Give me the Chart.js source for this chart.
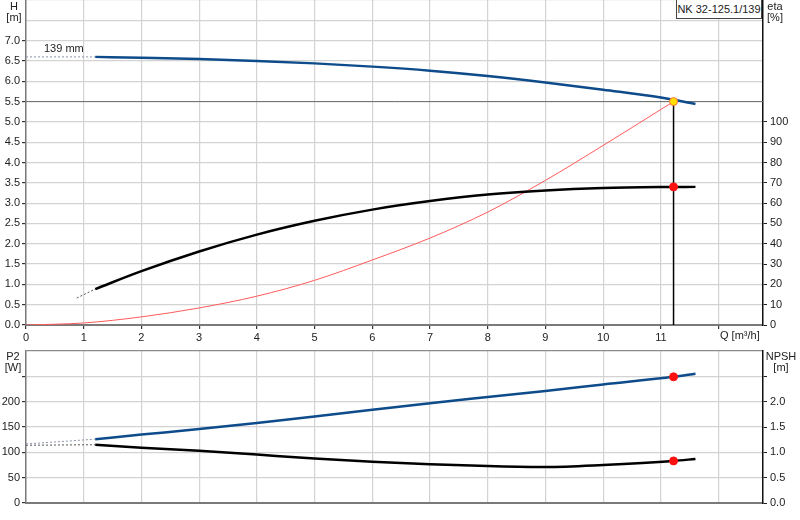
<!DOCTYPE html>
<html>
<head>
<meta charset="utf-8">
<script src="https://cdn.jsdelivr.net/npm/chart.js@4.4.1/dist/chart.umd.min.js"></script>
<style>
  body { margin: 0; background: #fff; font-family: Arial, "Liberation Sans", sans-serif; }
  #wrap { position: relative; width: 800px; height: 520px; overflow: hidden; }
  canvas { position: absolute; left: 0; }
  .lbl { position: absolute; font-size: 11px; line-height: 11px; color: #222; text-align: center; white-space: nowrap; }
  #tag { position: absolute; left: 676px; top: -1px; width: 84px; height: 18px; border: 1px solid #444;
         background: #fff; font-size: 11px; line-height: 19px; text-align: center; color: #222; }
</style>
</head>
<body>
<div id="wrap">
  <canvas id="topChart" width="800" height="345" style="top:0"></canvas>
  <canvas id="botChart" width="800" height="175" style="top:345px"></canvas>
  <div class="lbl" style="left:2px;top:1px;width:24px">H<br>[m]</div>
  <div class="lbl" style="left:763px;top:1px;width:24px">eta<br>[%]</div>
  <div class="lbl" style="left:44px;top:43px">139 mm</div>
  <div class="lbl" style="left:720px;top:330px">Q [m³/h]</div>
  <div class="lbl" style="left:1px;top:351px;width:24px">P2<br>[W]</div>
  <div class="lbl" style="left:764px;top:351px;width:34px">NPSH<br>[m]</div>
  <div id="tag">NK 32-125.1/139</div>
</div>
<script>
// pump curve (top)
const flowHead = [1.2, 2, 3, 4, 5, 6, 7, 8, 9, 10, 11, 11.6];
const head = [6.6, 6.58, 6.55, 6.5, 6.44, 6.36, 6.26, 6.13, 5.97, 5.79, 5.6, 5.44];
const headExtFlow = [0, 1.2];
const headExt = [6.6, 6.6];

const flowEta = [1.2, 2, 3, 4, 5, 6, 7, 8, 9, 10, 11, 11.6];
const eta = [17.7, 26.5, 36.2, 44.5, 51.3, 56.8, 61, 64.2, 66.2, 67.4, 67.9, 68];
const etaExtFlow = [0.88, 1.2];
const etaExt = [13.3, 17.7];

const flowSys = [0, 1, 2, 3, 4, 5, 6, 7, 8, 9, 10, 11.22];
const sysHead = [0, 0.05, 0.2, 0.42, 0.71, 1.1, 1.6, 2.14, 2.78, 3.56, 4.42, 5.5];

// power / npsh (bottom)
const flowLow = [1.2, 2, 3, 4, 5, 6, 7, 8, 9, 10, 11.22, 11.6];
const p2 = [126, 135, 146, 158, 170.5, 184, 197, 209, 221, 234, 249, 255];
const npsh = [1.15, 1.09, 1.03, 0.955, 0.88, 0.815, 0.765, 0.73, 0.71, 0.75, 0.83, 0.87];
const lowExtFlow = [0, 1.2];
const p2Ext = [116.5, 126];
const npshExt = [1.14, 1.15];

// duty point
const dutyQ = 11.22, dutyH = 5.5, dutyEta = 68, dutyP2 = 249, dutyNpsh = 0.83;

// axes
const qMax = 12.77;
const qTicks = [0, 1, 2, 3, 4, 5, 6, 7, 8, 9, 10, 11, 12];
const hTicks = [0, 0.5, 1, 1.5, 2, 2.5, 3, 3.5, 4, 4.5, 5, 5.5, 6, 6.5, 7, 7.5, 8];
const etaTicks = [0, 10, 20, 30, 40, 50, 60, 70, 80, 90, 100, 110, 120, 130, 140, 150, 160];
const p2Ticks = [0, 50, 100, 150, 200, 250, 300];
const npshTicks = [0, 0.5, 1, 1.5, 2, 2.5, 3];

Chart.defaults.font.family = 'Arial, "Liberation Sans", sans-serif';
Chart.defaults.font.size = 11;
Chart.defaults.color = '#222';

const pts = (xs, ys) => xs.map((x, i) => ({ x: x, y: ys[i] }));
const setTicks = list => s => { s.ticks = list.map(v => ({ value: v })); };
const GRID = '#d3d3d3';
const NONE = 'rgba(0,0,0,0)';

function line(data, color, width, extra) {
  return Object.assign({
    type: 'line', data: data, borderColor: color, borderWidth: width,
    pointRadius: 0, cubicInterpolationMode: 'monotone', fill: false
  }, extra || {});
}
function dot(x, y, fillC, edge, axis) {
  return { type: 'line', data: [{ x: x, y: y }], showLine: false, pointRadius: 4,
    pointBackgroundColor: fillC, pointBorderColor: edge, pointBorderWidth: 1, yAxisID: axis };
}

function xAxis(showLabels, h) {
  return {
    type: 'linear', min: 0, max: qMax,
    afterBuildTicks: setTicks(qTicks),
    afterFit: s => { s.height = h; s.paddingLeft = 0; s.paddingRight = 0; },
    grid: { color: GRID, lineWidth: 1.2, drawTicks: showLabels, tickLength: 4, tickColor: '#333' },
    border: { color: '#7a7a7a', width: 2 },
    ticks: { display: showLabels, padding: 2, maxRotation: 0, callback: v => v <= 11 ? String(v) : '' }
  };
}

function yLeft(min, max, list, labelMax, tickMax, dec, darkTop) {
  return {
    type: 'linear', position: 'left', min: min, max: max,
    afterBuildTicks: setTicks(list),
    afterFit: s => { s.width = 26; s.paddingTop = 0; s.paddingBottom = 0; },
    grid: { color: c => (darkTop && c.tick && c.tick.value === max) ? '#8a8a8a' : GRID, lineWidth: 1.2,
            tickLength: 4, tickColor: c => (c.tick && c.tick.value <= tickMax) ? '#333' : NONE },
    border: { color: '#7a7a7a', width: 1.5 },
    ticks: { padding: 2, callback: v => v <= labelMax ? v.toFixed(dec) : '' }
  };
}

function yRight(min, max, list, labelMax, tickMax, dec) {
  return {
    type: 'linear', position: 'right', min: min, max: max,
    afterBuildTicks: setTicks(list),
    afterFit: s => { s.width = 37; s.paddingTop = 0; s.paddingBottom = 0; },
    grid: { drawOnChartArea: false, tickLength: 4, tickColor: c => (c.tick && c.tick.value <= tickMax) ? '#222' : NONE },
    border: { color: '#111', width: 1.5 },
    ticks: { padding: 3, callback: v => v <= labelMax ? v.toFixed(dec) : '' }
  };
}

const common = {
  responsive: false, animation: false, devicePixelRatio: 1,
  plugins: { legend: { display: false }, tooltip: { enabled: false } }
};

new Chart(document.getElementById('topChart'), {
  type: 'line',
  data: {
    datasets: [
      dot(dutyQ, dutyH, '#ffe000', '#ff7040', 'y'),
      dot(dutyQ, dutyEta, '#ff1010', '#ff1010', 'yEta'),
      line(pts(flowHead, head), '#0d4b8a', 2.5, { yAxisID: 'y' }),
      line(pts(headExtFlow, headExt), '#8a94a8', 1, { yAxisID: 'y', borderDash: [2, 2] }),
      line(pts(flowEta, eta), '#000', 2.5, { yAxisID: 'yEta' }),
      line(pts(etaExtFlow, etaExt), '#555', 1, { yAxisID: 'yEta', borderDash: [2, 2] }),
      line(pts([dutyQ, dutyQ], [0, dutyH]), '#000', 1.5, { yAxisID: 'y', cubicInterpolationMode: 'default' }),
      line(pts(flowSys, sysHead), '#ff5a5a', 1, { yAxisID: 'y' }),
      line(pts([0, qMax], [dutyH, dutyH]), '#6e6e6e', 1, { yAxisID: 'y', cubicInterpolationMode: 'default' })
    ]
  },
  options: Object.assign({}, common, {
    layout: { autoPadding: false, padding: 0 },
    scales: {
      x: xAxis(true, 20),
      y: yLeft(0, 8, hTicks, 7, 7, 1, false),
      yEta: yRight(0, 160, etaTicks, 100, 100, 0)
    }
  })
});

new Chart(document.getElementById('botChart'), {
  type: 'line',
  data: {
    datasets: [
      dot(dutyQ, dutyP2, '#ff1010', '#ff1010', 'y'),
      dot(dutyQ, dutyNpsh, '#ff1010', '#ff1010', 'yN'),
      line(pts(flowLow, p2), '#0d4b8a', 2.5, { yAxisID: 'y' }),
      line(pts(lowExtFlow, p2Ext), '#8a94a8', 1, { yAxisID: 'y', borderDash: [2, 2] }),
      line(pts(flowLow, npsh), '#000', 2.5, { yAxisID: 'yN' }),
      line(pts(lowExtFlow, npshExt), '#555', 1, { yAxisID: 'yN', borderDash: [2, 2] })
    ]
  },
  options: Object.assign({}, common, {
    layout: { autoPadding: false, padding: { top: 6 } },
    scales: {
      x: xAxis(false, 17),
      y: yLeft(0, 300, p2Ticks, 200, 250, 0, true),
      yN: yRight(0, 3, npshTicks, 2, 2.5, 1)
    }
  })
});
</script>
</body>
</html>
